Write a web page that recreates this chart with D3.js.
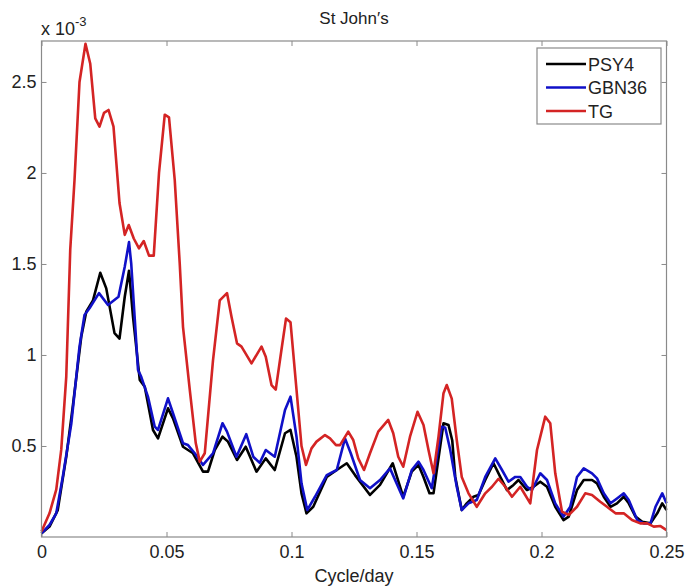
<!DOCTYPE html>
<html>
<head>
<meta charset="utf-8">
<script src="https://cdn.jsdelivr.net/npm/d3@7"></script>
<style>
  body { margin: 0; background: #fff; }
  text { font-family: "Liberation Sans", Arial, sans-serif; fill: #222; }
</style>
</head>
<body>
<div id="chart"></div>
<script>
// spectra, [cycle/day, value x 1e-3]
var psy4 = [
  [0,0.02],[0.0032,0.057],[0.0065,0.148],[0.0099,0.44],[0.0125,0.716],[0.0159,1.10],
  [0.0179,1.238],[0.0206,1.30],[0.0235,1.452],[0.0259,1.366],[0.0292,1.12],[0.0312,1.09],
  [0.0333,1.32],[0.0350,1.463],[0.0366,1.21],[0.0393,0.863],[0.0413,0.826],[0.0446,0.588],
  [0.0466,0.542],[0.0506,0.707],[0.0526,0.652],[0.0566,0.496],[0.0606,0.46],[0.0646,0.359],
  [0.0666,0.359],[0.0693,0.478],[0.0724,0.551],[0.0746,0.524],[0.0782,0.423],[0.0817,0.496],
  [0.0860,0.359],[0.0897,0.432],[0.0933,0.368],[0.0974,0.57],[0.0996,0.588],[0.1020,0.441],
  [0.1040,0.24],[0.1060,0.13],[0.1087,0.166],[0.1141,0.33],[0.1181,0.368],[0.1221,0.405],
  [0.1254,0.34],[0.1314,0.231],[0.1354,0.286],[0.1405,0.405],[0.1447,0.221],[0.1481,0.359],
  [0.1508,0.396],[0.1528,0.33],[0.1552,0.24],[0.1568,0.24],[0.1608,0.625],[0.1628,0.615],
  [0.1643,0.53],[0.1655,0.33],[0.1681,0.148],[0.1701,0.185],[0.1728,0.221],[0.1748,0.231],
  [0.1775,0.313],[0.1808,0.405],[0.1835,0.33],[0.1862,0.258],[0.1888,0.286],[0.1908,0.313],
  [0.1942,0.258],[0.1968,0.276],[0.1995,0.304],[0.2022,0.276],[0.2055,0.166],[0.2088,0.093],
  [0.2109,0.112],[0.2142,0.258],[0.2169,0.313],[0.2202,0.313],[0.2222,0.295],[0.2249,0.221],
  [0.2276,0.166],[0.2302,0.185],[0.2329,0.221],[0.2349,0.185],[0.2376,0.112],[0.2403,0.084],
  [0.2436,0.075],[0.2463,0.13],[0.2483,0.185],[0.25,0.148]
];
var gbn36 = [
  [0,0.02],[0.0032,0.066],[0.0059,0.13],[0.0085,0.33],[0.0119,0.62],[0.0152,1.046],
  [0.0172,1.22],[0.0192,1.257],[0.0230,1.34],[0.0266,1.275],[0.0308,1.32],[0.0333,1.485],
  [0.0350,1.62],[0.0359,1.50],[0.0386,0.918],[0.0399,0.88],[0.0426,0.77],[0.0453,0.606],
  [0.0466,0.588],[0.0506,0.762],[0.0526,0.68],[0.0566,0.515],[0.0586,0.505],[0.0613,0.46],
  [0.0646,0.396],[0.0686,0.46],[0.0724,0.625],[0.0742,0.579],[0.0780,0.441],[0.0819,0.565],
  [0.0847,0.441],[0.0873,0.407],[0.0897,0.478],[0.0933,0.441],[0.0974,0.698],[0.0996,0.771],
  [0.1020,0.551],[0.1040,0.295],[0.1063,0.148],[0.1094,0.221],[0.1141,0.34],[0.1181,0.368],
  [0.1214,0.542],[0.1237,0.46],[0.1274,0.313],[0.1314,0.268],[0.1354,0.313],[0.1394,0.377],
  [0.1447,0.212],[0.1481,0.368],[0.1508,0.414],[0.1528,0.368],[0.1561,0.268],[0.1601,0.606],
  [0.1615,0.60],[0.1635,0.478],[0.1661,0.276],[0.1681,0.148],[0.1708,0.185],[0.1741,0.203],
  [0.1775,0.33],[0.1815,0.432],[0.1842,0.368],[0.1868,0.304],[0.1895,0.33],[0.1915,0.33],
  [0.1942,0.276],[0.1962,0.258],[0.1995,0.35],[0.2022,0.313],[0.2055,0.185],[0.2088,0.112],
  [0.2115,0.166],[0.2142,0.33],[0.2169,0.377],[0.2202,0.35],[0.2222,0.322],[0.2249,0.24],
  [0.2276,0.185],[0.2302,0.212],[0.2329,0.24],[0.2349,0.203],[0.2383,0.093],[0.2409,0.075],
  [0.2436,0.075],[0.2456,0.166],[0.2483,0.24],[0.25,0.185]
];
var tg = [
  [0,0.03],[0.0032,0.13],[0.0059,0.26],[0.0079,0.48],[0.0099,0.88],[0.0115,1.58],
  [0.0132,1.96],[0.0152,2.50],[0.0176,2.71],[0.0195,2.60],[0.0215,2.30],[0.0232,2.255],
  [0.0250,2.33],[0.0268,2.346],[0.0288,2.255],[0.0312,1.835],[0.0333,1.66],[0.0349,1.714],
  [0.0369,1.64],[0.0390,1.586],[0.0409,1.626],[0.0430,1.546],[0.0449,1.546],[0.0470,2.0],
  [0.0493,2.32],[0.0510,2.306],[0.0533,1.96],[0.0553,1.50],[0.0566,1.155],[0.0593,0.81],
  [0.0617,0.516],[0.0633,0.414],[0.0653,0.46],[0.0686,0.97],[0.0713,1.30],[0.0742,1.34],
  [0.0760,1.21],[0.0782,1.064],[0.0800,1.046],[0.0840,0.954],[0.0880,1.046],[0.0897,0.99],
  [0.0920,0.835],[0.0937,0.81],[0.0960,1.03],[0.0978,1.20],[0.0996,1.18],[0.1020,0.81],
  [0.1040,0.50],[0.1058,0.396],[0.1080,0.487],[0.1100,0.524],[0.1134,0.56],[0.1154,0.542],
  [0.1178,0.505],[0.1194,0.505],[0.1227,0.579],[0.1247,0.533],[0.1267,0.432],[0.1290,0.368],
  [0.1314,0.46],[0.1347,0.579],[0.1387,0.643],[0.1407,0.57],[0.1427,0.441],[0.1447,0.386],
  [0.1474,0.551],[0.1504,0.688],[0.1528,0.615],[0.1548,0.478],[0.1568,0.35],[0.1588,0.551],
  [0.1608,0.79],[0.1621,0.835],[0.1641,0.76],[0.1661,0.533],[0.1681,0.33],[0.1708,0.24],
  [0.1741,0.166],[0.1775,0.24],[0.1802,0.276],[0.1828,0.32],[0.1855,0.276],[0.1882,0.221],
  [0.1915,0.276],[0.1955,0.185],[0.1982,0.478],[0.2015,0.661],[0.2035,0.625],[0.2055,0.35],
  [0.2082,0.139],[0.2109,0.121],[0.2142,0.166],[0.2175,0.24],[0.2202,0.231],[0.2235,0.194],
  [0.2262,0.166],[0.2296,0.13],[0.2329,0.13],[0.2362,0.093],[0.2395,0.075],[0.2423,0.075],
  [0.2449,0.057],[0.2476,0.06],[0.25,0.038]
];

var seriesNames = ["PSY4", "GBN36", "TG"];
var seriesColors = ["#000000", "#1010c8", "#d42424"];
var xTicks = [0, 0.05, 0.1, 0.15, 0.2, 0.25];
var xTickLabels = ["0", "0.05", "0.1", "0.15", "0.2", "0.25"];
var yTicks = [0.5, 1, 1.5, 2, 2.5];
var yTickLabels = ["0.5", "1", "1.5", "2", "2.5"];

var W = 687, H = 587;
var margin = {top: 41, right: 20.5, bottom: 50, left: 41.5};
var width = W - margin.left - margin.right;
var height = H - margin.top - margin.bottom;

var svg = d3.select("#chart").append("svg")
    .attr("width", W)
    .attr("height", H);

var g = svg.append("g")
    .attr("transform", "translate(" + margin.left + "," + margin.top + ")");

var x = d3.scaleLinear().domain([0, 0.25]).range([0, width]);
var y = d3.scaleLinear().domain([0, 2.725]).range([height, 0]);

var axisColor = "#8a8a8a";

// bottom / left axes with inward ticks
var xAxis = g.append("g")
    .attr("transform", "translate(0," + height + ")")
    .call(d3.axisBottom(x).tickValues(xTicks).tickSizeInner(-5).tickSizeOuter(0)
        .tickPadding(8).tickFormat(function(d, i) { return xTickLabels[i]; }));
var yAxis = g.append("g")
    .call(d3.axisLeft(y).tickValues(yTicks).tickSizeInner(-5).tickSizeOuter(0)
        .tickPadding(5).tickFormat(function(d, i) { return yTickLabels[i]; }));
// top / right ticks, no labels
var xTop = g.append("g")
    .call(d3.axisTop(x).tickValues(xTicks).tickSizeInner(-5).tickSizeOuter(0).tickFormat(""));
var yRight = g.append("g")
    .attr("transform", "translate(" + width + ",0)")
    .call(d3.axisRight(y).tickValues(yTicks).tickSizeInner(-5).tickSizeOuter(0).tickFormat(""));

[xAxis, yAxis, xTop, yRight].forEach(function(a) {
    a.selectAll("path").remove();
    a.selectAll("line").attr("stroke", axisColor);
    a.selectAll("text")
        .style("font-family", '"Liberation Sans", Arial, sans-serif')
        .style("font-size", "18px")
        .attr("fill", "#1a1a1a");
});

// lines
var line = d3.line()
    .x(function(d) { return x(d[0]); })
    .y(function(d) { return y(d[1]); });

[psy4, gbn36, tg].forEach(function(s, i) {
    g.append("path")
        .datum(s)
        .attr("fill", "none")
        .attr("stroke", seriesColors[i])
        .attr("stroke-width", 2.6)
        .attr("stroke-linejoin", "round")
        .attr("d", line);
});

// box
g.append("rect")
    .attr("width", width)
    .attr("height", height)
    .attr("fill", "none")
    .attr("stroke", axisColor)
    .attr("stroke-width", 1.2);

// legend
var lg = g.append("g").attr("transform", "translate(" + (537 - margin.left) + "," + (48 - margin.top) + ")");
lg.append("rect")
    .attr("width", 124).attr("height", 76)
    .attr("fill", "#fff")
    .attr("stroke", axisColor)
    .attr("stroke-width", 1.2);
seriesNames.forEach(function(n, i) {
    var yy = 16 + i * 23.5;
    lg.append("line")
        .attr("x1", 9).attr("x2", 49)
        .attr("y1", yy).attr("y2", yy)
        .attr("stroke", seriesColors[i])
        .attr("stroke-width", 2.6);
    lg.append("text")
        .attr("x", 51).attr("y", yy + 6.5)
        .style("font-size", "18px")
        .text(n);
});

// title, x label, exponent
svg.append("text")
    .attr("x", margin.left + width / 2).attr("y", 24)
    .attr("text-anchor", "middle")
    .style("font-size", "17px")
    .text("St John\u2032s");

svg.append("text")
    .attr("x", margin.left + width / 2).attr("y", 582)
    .attr("text-anchor", "middle")
    .style("font-size", "18px")
    .text("Cycle/day");

var ex = svg.append("text")
    .attr("x", 41).attr("y", 35)
    .style("font-size", "18px");
ex.append("tspan").text("x 10");
ex.append("tspan").attr("dy", -9).style("font-size", "13px").text("-3");
</script>
</body>
</html>
